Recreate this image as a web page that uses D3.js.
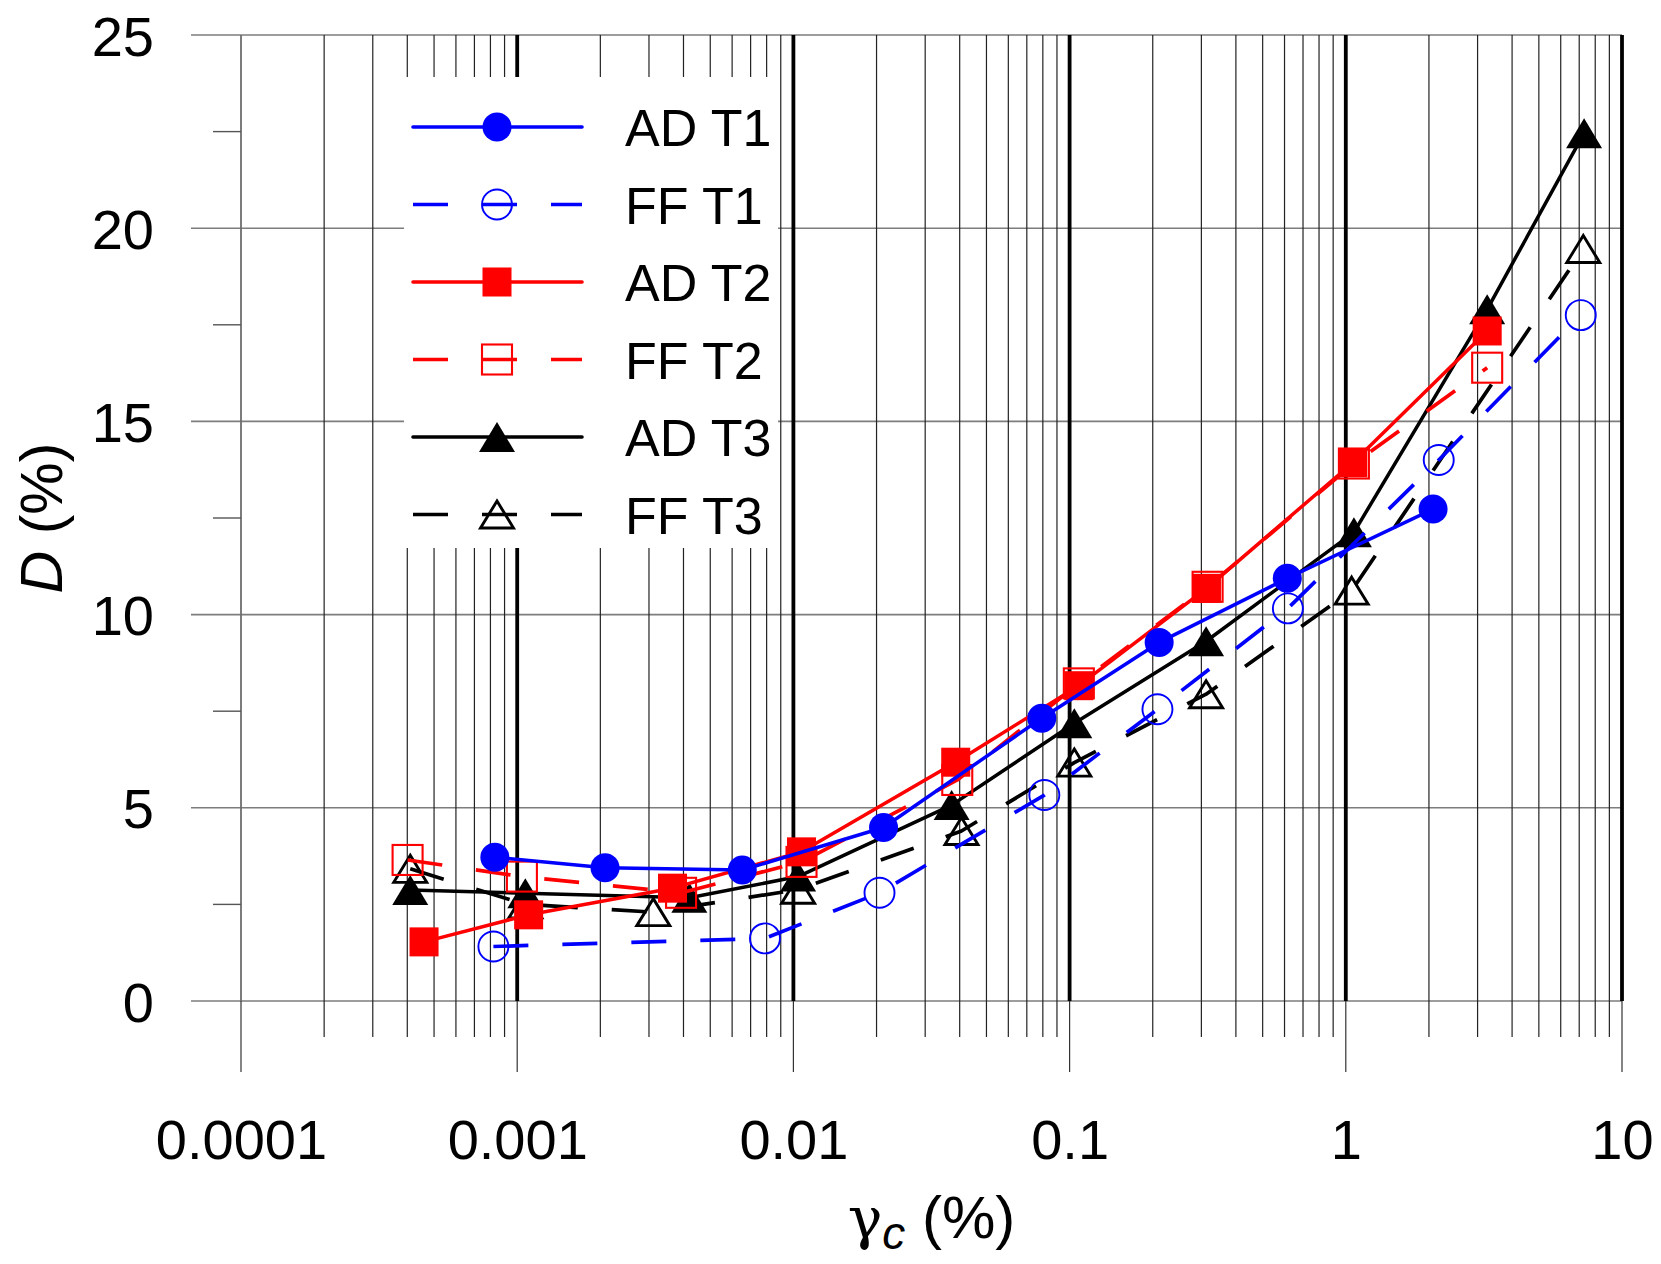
<!DOCTYPE html>
<html>
<head>
<meta charset="utf-8">
<script src="https://cdn.jsdelivr.net/npm/d3@7"></script>
<style>
  html, body { margin: 0; padding: 0; background: #fff; }
  svg { display: block; }
  text { font-family: "Liberation Sans", Arial, sans-serif; fill: #000; }
</style>
</head>
<body>
<svg id="chart" width="1661" height="1264"></svg>
<script>
// Damping ratio D (%) versus cyclic shear strain γc (%) for three tests,
// AD and FF evaluations of each.
const adT1Strain = [0.00083, 0.00208, 0.00653, 0.0212, 0.0793, 0.211, 0.614, 2.07];
const adT1Damping = [3.72, 3.45, 3.39, 4.49, 7.32, 9.28, 10.94, 12.73];

const ffT1Strain = [0.00082, 0.00789, 0.0205, 0.081, 0.208, 0.617, 2.17, 7.09];
const ffT1Damping = [1.41, 1.62, 2.80, 5.33, 7.55, 10.16, 14.0, 17.75];

const adT2Strain = [0.00046, 0.0011, 0.00365, 0.0107, 0.0387, 0.108, 0.313, 1.06, 3.25];
const adT2Damping = [1.53, 2.23, 2.92, 3.86, 6.18, 8.16, 10.68, 13.93, 17.34];

const ffT2Strain = [0.000401, 0.00104, 0.00392, 0.0107, 0.0392, 0.108, 0.316, 1.07, 3.25];
const ffT2Damping = [3.65, 3.22, 2.80, 3.60, 5.72, 8.22, 10.72, 13.91, 16.39];

const adT3Strain = [0.00041, 0.00107, 0.0042, 0.0104, 0.0374, 0.104, 0.312, 1.07, 3.25, 7.29];
const adT3Damping = [2.87, 2.79, 2.67, 3.22, 5.07, 7.19, 9.31, 12.13, 17.90, 22.46];

const ffT3Strain = [0.00041, 0.00107, 0.00311, 0.0104, 0.0406, 0.104, 0.312, 1.05, 7.24];
const ffT3Damping = [3.42, 2.50, 2.30, 2.88, 4.40, 6.17, 7.94, 10.62, 19.46];

const xTickValues = [0.0001, 0.001, 0.01, 0.1, 1, 10];
const xTickLabels = ["0.0001", "0.001", "0.01", "0.1", "1", "10"];
const yTickValues = [0, 5, 10, 15, 20, 25];
const yMinorValues = [2.5, 7.5, 12.5, 17.5, 22.5];

const series = [
  { name: "FF T3", xs: ffT3Strain, ys: ffT3Damping, color: "#000000", dashed: true,  shape: "triangle", filled: false },
  { name: "AD T3", xs: adT3Strain, ys: adT3Damping, color: "#000000", dashed: false, shape: "triangle", filled: true },
  { name: "FF T2", xs: ffT2Strain, ys: ffT2Damping, color: "#ff0000", dashed: true,  shape: "square",   filled: false },
  { name: "AD T2", xs: adT2Strain, ys: adT2Damping, color: "#ff0000", dashed: false, shape: "square",   filled: true },
  { name: "FF T1", xs: ffT1Strain, ys: ffT1Damping, color: "#0000ff", dashed: true,  shape: "circle",   filled: false },
  { name: "AD T1", xs: adT1Strain, ys: adT1Damping, color: "#0000ff", dashed: false, shape: "circle",   filled: true }
];
const legendOrder = ["AD T1", "FF T1", "AD T2", "FF T2", "AD T3", "FF T3"];

const svg = d3.select("#chart");
const x = d3.scaleLog().domain([1e-4, 10]).range([241, 1622]);
const y = d3.scaleLinear().domain([0, 25]).range([1001, 35]);

const DASH = "35,34";

// ---- grid ----
const grid = svg.append("g");
// horizontal grid lines (start at the outer end of the y ticks)
grid.selectAll("line.h").data(yTickValues).join("line")
  .attr("x1", 191).attr("x2", x(10))
  .attr("y1", d => y(d)).attr("y2", d => y(d))
  .attr("stroke", "#7d7d7d").attr("stroke-width", 1.6);

// minor vertical lines (2..9 within each decade), with short ticks below the axis
const allX = x.ticks().filter(v => !xTickValues.some(t => Math.abs(t - v) / t < 1e-9));
grid.selectAll("line.m").data(allX).join("line")
  .attr("x1", d => x(d)).attr("x2", d => x(d))
  .attr("y1", y(25)).attr("y2", y(0) + 36)
  .attr("stroke", "#222").attr("stroke-width", 1.2);

// decade ticks below the axis
grid.selectAll("line.dt").data(xTickValues).join("line")
  .attr("x1", d => x(d)).attr("x2", d => x(d))
  .attr("y1", y(0)).attr("y2", y(0) + 71)
  .attr("stroke", "#333").attr("stroke-width", 1.2);

// left axis line at 0.0001 (thin) and bold decade lines
grid.append("line")
  .attr("x1", x(1e-4)).attr("x2", x(1e-4)).attr("y1", y(25)).attr("y2", y(0))
  .attr("stroke", "#6e6e6e").attr("stroke-width", 1.8);
grid.selectAll("line.d").data(xTickValues.slice(1)).join("line")
  .attr("x1", d => x(d)).attr("x2", d => x(d))
  .attr("y1", y(25)).attr("y2", y(0))
  .attr("stroke", "#000").attr("stroke-width", 3.8);

// minor y ticks
grid.selectAll("line.ym").data(yMinorValues).join("line")
  .attr("x1", 213).attr("x2", x(1e-4))
  .attr("y1", d => y(d)).attr("y2", d => y(d))
  .attr("stroke", "#555").attr("stroke-width", 1.4);

// ---- axis labels via d3 axes ----
const xAxis = d3.axisBottom(x).tickValues(xTickValues)
  .tickFormat((d, i) => xTickLabels[i]).tickSize(0).tickPadding(118);
const gx = svg.append("g").attr("transform", `translate(0,${y(0)})`).call(xAxis);
gx.select(".domain").remove();
gx.selectAll("text").attr("font-size", 56)
  .attr("font-family", '"Liberation Sans", Arial, sans-serif').attr("fill", "#000");

const yAxis = d3.axisLeft(y).tickValues(yTickValues).tickSize(0).tickPadding(87);
const gy = svg.append("g").attr("transform", `translate(${x(1e-4)},0)`).call(yAxis);
gy.select(".domain").remove();
gy.selectAll("text").attr("font-size", 56).attr("dy", "0.36em")
  .attr("font-family", '"Liberation Sans", Arial, sans-serif').attr("fill", "#000");

// axis titles
const xt = svg.append("text").attr("x", (x(1e-4) + x(10)) / 2).attr("y", 1238)
  .attr("text-anchor", "middle").attr("font-size", 60);
xt.append("tspan").text("γ").attr("font-family", '"DejaVu Serif", "Liberation Serif", serif').attr("font-size", 58);
xt.append("tspan").text("c").attr("font-style", "italic").attr("font-size", 46).attr("dy", 11);
xt.append("tspan").text(" (%)").attr("dy", -11);

const yt = svg.append("text")
  .attr("transform", `translate(62,${(y(0) + y(25)) / 2}) rotate(-90)`)
  .attr("text-anchor", "middle").attr("font-size", 59);
yt.append("tspan").text("D").attr("font-style", "italic");
yt.append("tspan").text(" (%)");

// ---- marker drawing ----
function drawMarker(g, shape, filled, color, cx, cy) {
  if (shape === "circle") {
    g.append("circle").attr("cx", cx).attr("cy", cy)
      .attr("r", filled ? 14.5 : 15)
      .attr("fill", filled ? color : "none")
      .attr("stroke", filled ? "none" : color).attr("stroke-width", 1.9);
  } else if (shape === "square") {
    const s = filled ? 29 : 30;
    g.append("rect").attr("x", cx - s / 2).attr("y", cy - s / 2)
      .attr("width", s).attr("height", s)
      .attr("fill", filled ? color : "none")
      .attr("stroke", filled ? "none" : color).attr("stroke-width", 2.1);
  } else {
    const w = filled ? 36 : 33, h = filled ? 30 : 27;
    const p = d3.path();
    p.moveTo(cx, cy - h / 2); p.lineTo(cx + w / 2, cy + h / 2); p.lineTo(cx - w / 2, cy + h / 2); p.closePath();
    g.append("path").attr("d", p.toString())
      .attr("fill", filled ? color : "none")
      .attr("stroke", filled ? "none" : color).attr("stroke-width", 2.9)
      .attr("stroke-linejoin", "miter");
  }
}

// ---- legend ----
const legend = svg.append("g");
legend.append("rect").attr("x", 404).attr("y", 77).attr("width", 374).attr("height", 471).attr("fill", "#fff");
legendOrder.forEach((name, i) => {
  const s = series.find(d => d.name === name);
  const ry = 127 + i * 77.5;
  legend.append("line").attr("x1", 413).attr("x2", 582).attr("y1", ry).attr("y2", ry)
    .attr("stroke", s.color).attr("stroke-width", 3.6)
    .attr("stroke-dasharray", s.dashed ? DASH : null)
    .attr("stroke-linecap", s.dashed ? "butt" : "round");
  drawMarker(legend, s.shape, s.filled, s.color, 497, ry);
  legend.append("text").attr("x", 625).attr("y", ry + 19).attr("font-size", 52).text(name);
});

// ---- data ----
const line = d3.line().x(d => x(d[0])).y(d => y(d[1]));
const plot = svg.append("g");
series.forEach(s => {
  const pts = s.xs.map((v, i) => [v, s.ys[i]]);
  const g = plot.append("g");
  g.append("path").attr("d", line(pts)).attr("fill", "none")
    .attr("stroke", s.color).attr("stroke-width", s.dashed ? 3.7 : 3.5)
    .attr("stroke-dasharray", s.dashed ? DASH : null)
    .attr("stroke-linejoin", "round");
  pts.forEach(p => drawMarker(g, s.shape, s.filled, s.color, x(p[0]), y(p[1])));
});
</script>
</body>
</html>
